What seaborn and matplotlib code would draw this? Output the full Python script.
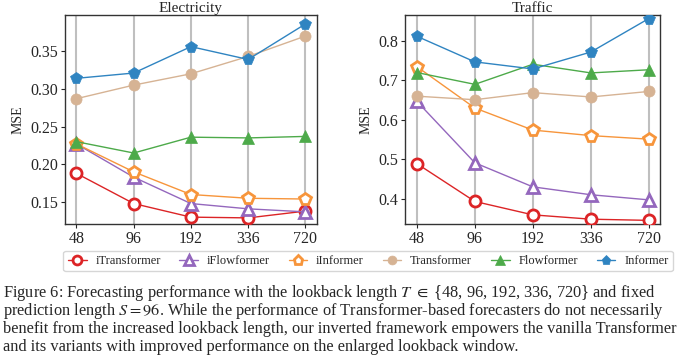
import pandas as pd
import seaborn as sns
import matplotlib.pyplot as plt

# lookback lengths
lookback = [48, 96, 192, 336, 720]
models = ['iTransformer', 'iFlowformer', 'iInformer', 'Transformer', 'Flowformer', 'Informer']

# Electricity MSE
elc_itransformer = [0.188, 0.148, 0.130, 0.129, 0.138]
elc_iflowformer = [0.227, 0.183, 0.148, 0.141, 0.137]
elc_iinformer = [0.227, 0.190, 0.160, 0.155, 0.154]
elc_transformer = [0.287, 0.305, 0.320, 0.343, 0.370]
elc_flowformer = [0.230, 0.215, 0.236, 0.235, 0.237]
elc_informer = [0.314, 0.321, 0.356, 0.339, 0.386]

# Traffic MSE
tra_itransformer = [0.489, 0.393, 0.359, 0.348, 0.345]
tra_iflowformer = [0.647, 0.491, 0.430, 0.410, 0.397]
tra_iinformer = [0.735, 0.630, 0.574, 0.560, 0.551]
tra_transformer = [0.660, 0.651, 0.669, 0.658, 0.672]
tra_flowformer = [0.720, 0.690, 0.741, 0.719, 0.727]
tra_informer = [0.812, 0.747, 0.729, 0.772, 0.857]

caption_lines = [
    r'Figure 6: Forecasting performance with the lookback length $T$ $\in$ {48, 96, 192, 336, 720} and fixed',
    r'prediction length $S = 96$. While the performance of Transformer-based forecasters do not necessarily',
    'benefit from the increased lookback length, our inverted framework empowers the vanilla Transformer',
    'and its variants with improved performance on the enlarged lookback window.',
]

colors = ['#dc2426', '#9467bd', '#f7953b', '#d6b394', '#4daa4a', '#2f84c1']
markers = ['o', '^', 'p', 'o', '^', 'p']
hollow = [True, True, True, False, False, False]

elc = [elc_itransformer, elc_iflowformer, elc_iinformer, elc_transformer, elc_flowformer, elc_informer]
tra = [tra_itransformer, tra_iflowformer, tra_iinformer, tra_transformer, tra_flowformer, tra_informer]


def to_frame(values):
    rows = []
    for m, vals in zip(models, values):
        for i, v in enumerate(vals):
            rows.append({'pos': i, 'model': m, 'MSE': v})
    return pd.DataFrame(rows)


sns.set_style('white')
plt.rcParams['font.family'] = ['Liberation Serif', 'DejaVu Serif']
plt.rcParams['mathtext.fontset'] = 'stix'

fig = plt.figure(figsize=(6.88, 3.56), dpi=100)
ax1 = fig.add_axes([0.0945, 0.371, 0.366, 0.587])
ax2 = fig.add_axes([0.589, 0.371, 0.371, 0.587])

for ax, values, title in [(ax1, elc, 'Electricity'), (ax2, tra, 'Traffic')]:
    df = to_frame(values)
    for m, c, mk, h in zip(models, colors, markers, hollow):
        sub = df[df['model'] == m]
        sns.lineplot(data=sub, x='pos', y='MSE', ax=ax, color=c, linewidth=1.0,
                     marker=mk, markersize=8.5 if mk != 'o' else 8,
                     markerfacecolor='white' if h else c,
                     markeredgecolor=c, markeredgewidth=2.0 if h else 0.5,
                     label=m, zorder=3)
    ax.set_xticks(range(len(lookback)))
    ax.set_xticklabels([str(v) for v in lookback])
    ax.set_xlim(-0.2, 4.2)
    ax.grid(axis='x', color='#b0b0b0', linewidth=1.5, alpha=0.8)
    ax.grid(axis='y', visible=False)
    ax.set_title(title, fontsize=11, pad=2)
    ax.set_xlabel('')
    ax.set_ylabel('MSE', fontsize=10)
    ax.tick_params(axis='both', labelsize=11.5, length=3, left=True, bottom=True, pad=2)
    for s in ax.spines.values():
        s.set_color('#333333')
        s.set_linewidth(1.0)
    ax.get_legend().remove()

ax1.set_ylim(0.121, 0.398)
ax1.set_yticks([0.15, 0.20, 0.25, 0.30, 0.35])
ax1.set_yticklabels(['0.15', '0.20', '0.25', '0.30', '0.35'])
ax2.set_ylim(0.336, 0.866)
ax2.set_yticks([0.4, 0.5, 0.6, 0.7, 0.8])

handles, labels = ax1.get_legend_handles_labels()
fig.legend(handles, labels, loc='center', bbox_to_anchor=(0.535, 0.267), ncol=6,
           fontsize=9, frameon=True, handlelength=1.5, columnspacing=1.5,
           handletextpad=0.7, borderpad=0.35, markerscale=0.8,
           edgecolor='#cccccc', fancybox=True)

# caption, one text per line
for i, line in enumerate(caption_lines):
    fig.text(0.004, 0.176 - i * 0.05, line, fontsize=11.8, va='center', ha='left')

fig.savefig('out.png', dpi=100)
